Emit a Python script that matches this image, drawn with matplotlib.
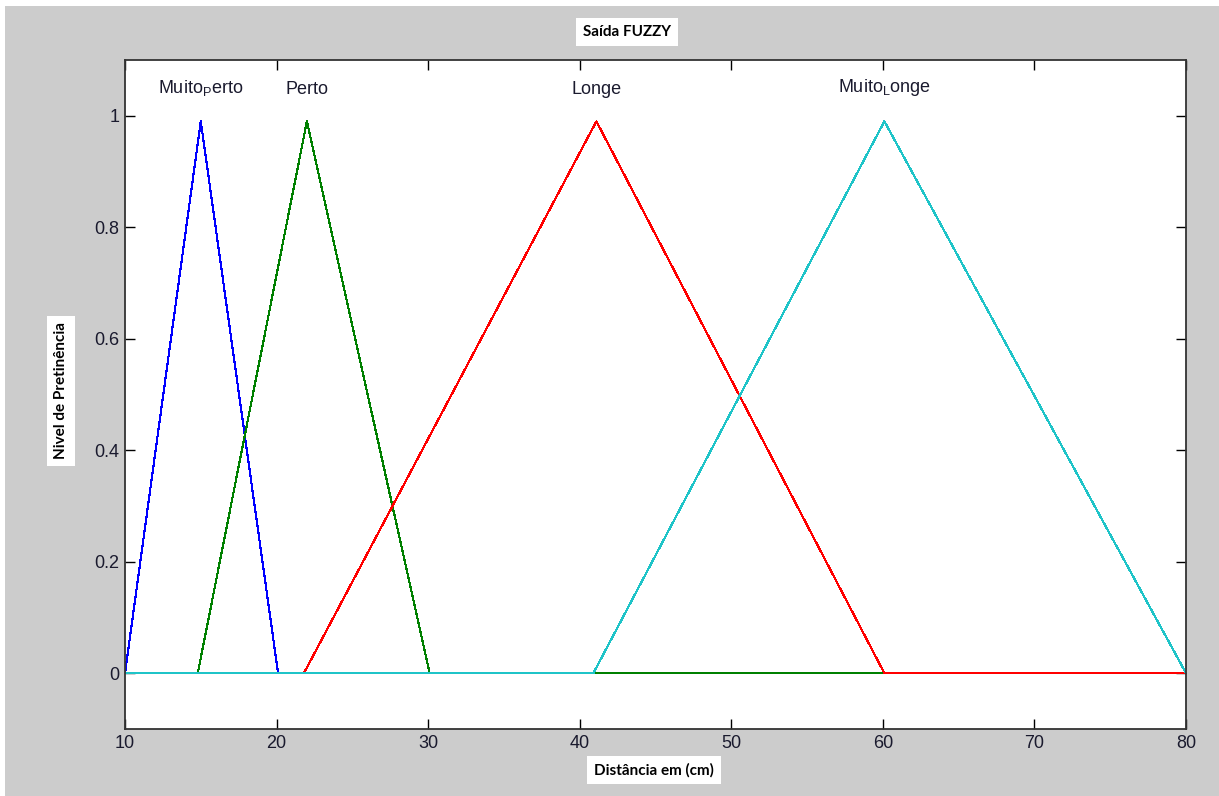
import numpy as np
import matplotlib
matplotlib.use("Agg")
import matplotlib.pyplot as plt
from matplotlib.patches import Rectangle

plt.rcParams['font.family'] = ['Liberation Sans', 'DejaVu Sans']
plt.rcParams['mathtext.fontset'] = 'custom'
plt.rcParams['mathtext.rm'] = 'Liberation Sans'
plt.rcParams['mathtext.default'] = 'regular'

# membership functions (vertices)
mp_x = [10, 15.0, 20.1, 80]
mp_y = [0, 0.99, 0, 0]
perto_x = [10, 14.8, 22.0, 30.1, 80]
perto_y = [0, 0, 0.99, 0, 0]
longe_x = [10, 21.8, 41.1, 60.1, 80]
longe_y = [0, 0, 0.99, 0, 0]
ml_x = [10, 40.9, 60.1, 80]
ml_y = [0, 0, 0.99, 0]

names = [r'Muito$_{P}$erto', 'Perto', 'Longe', r'Muito$_{L}$onge']
colors = ['#0000ff', '#008000', '#ff0000', '#1fc4c8']
series = [(mp_x, mp_y), (perto_x, perto_y), (longe_x, longe_y), (ml_x, ml_y)]

xticks = [10, 20, 30, 40, 50, 60, 70, 80]
yticks = [0, 0.2, 0.4, 0.6, 0.8, 1]

fig = plt.figure(figsize=(12.19, 7.96), dpi=100, facecolor='white')
fig.patches.append(Rectangle((5 / 1219, 0), 1, 1 - 6 / 796, transform=fig.transFigure,
                             facecolor='#cccccc', edgecolor='none', zorder=-10))
ax = fig.add_axes([125 / 1219, 1 - 729 / 796, (1186 - 125) / 1219, (729 - 60) / 796])
ax.set_facecolor('white')

for (xs, ys), c, name in zip(series, colors, names):
    ax.plot(xs, ys, color=c, lw=0.8, antialiased=False)
    k = int(np.argmax(ys))
    ax.text(xs[k], 1.032, name, ha='center', va='bottom', fontsize=13, color='#1a1a2e')

ax.set_xlim(10, 80)
ax.set_ylim(-0.1, 1.1)
ax.set_xticks(xticks)
ax.set_yticks(yticks)
ax.set_yticklabels(['0', '0.2', '0.4', '0.6', '0.8', '1'])
ax.tick_params(direction='in', length=7, width=1, top=True, right=True,
               labelsize=13, labelcolor='#1a1a2e', pad=4)
for s in ax.spines.values():
    s.set_color('#333333')
    s.set_linewidth(1.3)

box = dict(facecolor='white', edgecolor='none', pad=5)
fig.text(627 / 1219, 1 - 32 / 796, 'Saída FUZZY', ha='center', va='center',
         fontsize=11, fontweight='bold', family='Lato', bbox=box)
fig.text(654 / 1219, 1 - 770 / 796, 'Distância em (cm)', ha='center', va='center',
         fontsize=11, fontweight='bold', family='Lato', bbox=box)
fig.text(61 / 1219, 1 - 391 / 796, 'Nivel de Pretinência', ha='center', va='center',
         rotation=90, fontsize=11, fontweight='bold', family='Lato', bbox=box)

fig.savefig('out.png', dpi=100, facecolor=fig.get_facecolor())
